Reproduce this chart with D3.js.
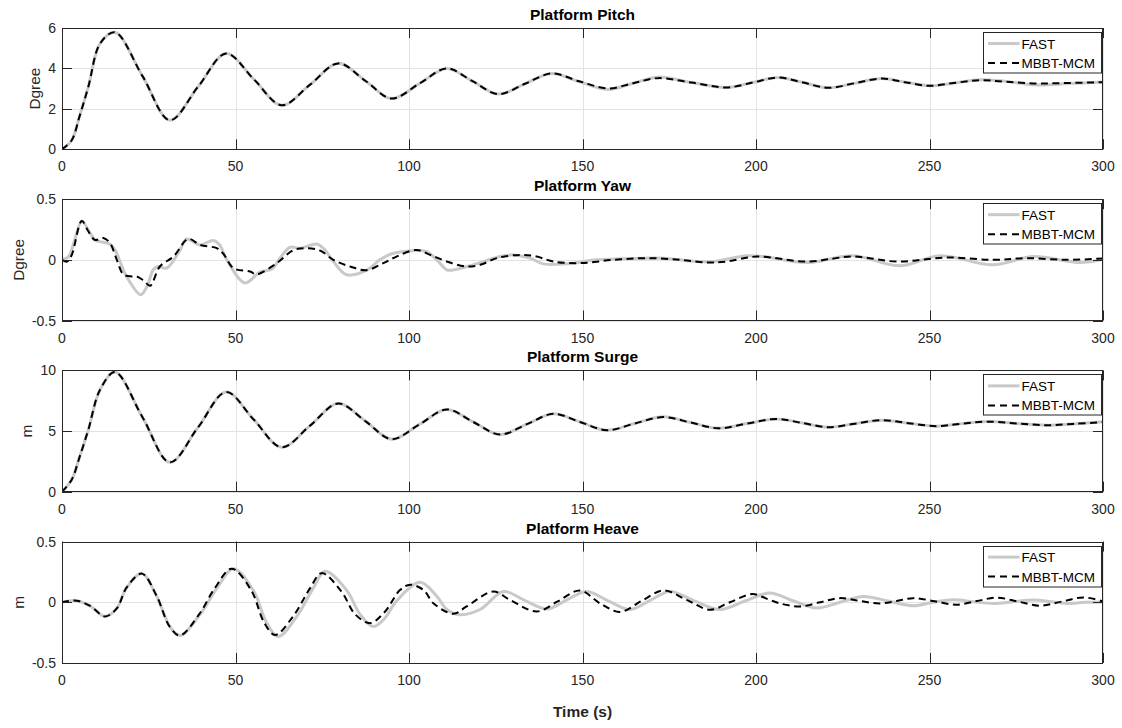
<!DOCTYPE html>
<html><head><meta charset="utf-8">
<script src="https://cdn.jsdelivr.net/npm/d3@7/dist/d3.min.js"></script>
<style>body{margin:0;background:#fff}svg{display:block}text{font-family:"Liberation Sans",Arial,Helvetica,sans-serif}</style>
</head><body><svg id="c" width="1122" height="728"></svg>
<script>
// ---------- data ----------
const xTicks = [0, 50, 100, 150, 200, 250, 300];
const panelTitles = ["Platform Pitch", "Platform Yaw", "Platform Surge", "Platform Heave"];
const yLabels = ["Dgree", "Dgree", "m", "m"];
const yTicksPitch = [0, 2, 4, 6];
const yTicksYaw = [-0.5, 0, 0.5];
const yTicksSurge = [0, 5, 10];
const yTicksHeave = [-0.5, 0, 0.5];
const seriesNames = ["FAST", "MBBT-MCM"];
const xLabel = "Time (s)";

// Pitch
const pitchT = [0, 2.8, 5, 7.6, 11, 15.3, 23.2, 31.1, 39.2, 47.3, 55.3, 63.3, 71.5, 79.6, 87.5, 95, 103, 110.9, 118.3, 125.7, 133.4, 141.1, 149, 157.4, 164.6, 171.8, 181.5, 191.5, 199, 206.4, 213.6, 220.8, 228.5, 236.2, 243, 250.1, 257, 264.6, 272, 281, 290, 300];
const pitchFast = [0, 0.45, 1.6, 3.1, 5.24, 5.79, 3.62, 1.44, 3.09, 4.74, 3.46, 2.18, 3.2, 4.25, 3.38, 2.51, 3.25, 4.0, 3.37, 2.73, 3.24, 3.75, 3.35, 2.96, 3.27, 3.57, 3.3, 3.06, 3.3, 3.55, 3.3, 3.04, 3.27, 3.5, 3.32, 3.14, 3.28, 3.44, 3.36, 3.18, 3.25, 3.33];
const pitchMbbt = [0, 0.45, 1.6, 3.1, 5.24, 5.79, 3.62, 1.44, 3.09, 4.74, 3.46, 2.18, 3.2, 4.25, 3.38, 2.51, 3.25, 4.0, 3.37, 2.73, 3.24, 3.75, 3.37, 3.01, 3.27, 3.52, 3.3, 3.06, 3.3, 3.55, 3.3, 3.04, 3.27, 3.5, 3.32, 3.14, 3.28, 3.42, 3.34, 3.26, 3.28, 3.32];

// Yaw
const yawFastT = [0, 2, 3.5, 5.7, 7.5, 9.5, 11, 13.8, 15.3, 18.6, 22.7, 24.5, 26.3, 27.7, 30.2, 34, 35.9, 39.8, 43.6, 45.5, 47.5, 52.7, 57.1, 60.5, 63, 65.7, 68.6, 73.4, 75.5, 78.2, 82, 87.8, 91.6, 95, 101.2, 105.1, 108, 110.9, 112.3, 118.5, 126.2, 130.1, 134.9, 138.7, 145.4, 154.1, 168.5, 173.3, 182.9, 187.7, 197.3, 202.1, 214.6, 228, 241.5, 253, 268.4, 279.9, 293.4, 300];
const yawFast = [0, 0.03, 0.15, 0.32, 0.25, 0.164, 0.15, 0.13, 0.08, -0.137, -0.287, -0.22, -0.082, -0.055, -0.068, 0.08, 0.172, 0.123, 0.16, 0.12, 0, -0.19, -0.1, -0.075, 0.02, 0.104, 0.095, 0.131, 0.09, -0.014, -0.123, -0.085, 0, 0.05, 0.076, 0.068, 0, -0.082, -0.085, -0.041, 0.027, 0.041, 0.014, -0.033, -0.033, 0, 0.014, 0.014, -0.014, -0.014, 0.033, 0.027, -0.022, 0.033, -0.049, 0.033, -0.041, 0.027, -0.022, 0.005];
const yawMbbtT = [0, 1.5, 2.8, 5.7, 7.5, 9.5, 11.9, 13.8, 15.8, 17.7, 20.1, 21.5, 23.5, 25.4, 28.2, 32.1, 36.4, 39.8, 44.6, 46.5, 49.4, 54.2, 56.1, 61.9, 66.7, 70.5, 74.4, 78.2, 83, 87.8, 92.6, 96.4, 102.2, 106.1, 110.9, 116.6, 120.5, 125.3, 132, 136.8, 141.6, 149.3, 158.9, 168.5, 178.1, 185.8, 191.5, 200.2, 214.6, 228, 240.5, 254.9, 268.4, 278, 289.5, 300];
const yawMbbt = [0, -0.014, 0.04, 0.32, 0.24, 0.164, 0.18, 0.14, 0, -0.12, -0.137, -0.137, -0.17, -0.213, -0.055, 0.027, 0.172, 0.123, 0.096, 0.05, -0.068, -0.096, -0.12, -0.027, 0.08, 0.096, 0.076, 0, -0.055, -0.085, -0.027, 0.027, 0.082, 0.041, -0.014, -0.055, -0.041, 0.014, 0.041, 0.027, -0.014, -0.027, 0, 0.014, 0, -0.022, -0.014, 0.027, -0.014, 0.027, -0.014, 0.019, 0, 0.014, 0, 0.011];

// Surge
const surgeT = [0, 2.8, 5, 7.6, 11, 15.3, 23.2, 31.1, 39.2, 47.3, 55.3, 63.3, 71.5, 79.6, 87.5, 95, 103, 110.9, 118.5, 126.2, 134, 141.6, 149.3, 157, 165, 173.3, 181.2, 189.1, 197.5, 206, 213.4, 220.8, 228.5, 236.2, 244, 252, 259, 266.5, 275, 283.8, 292, 300];
const surgeFast = [0, 0.99, 2.8, 5.12, 8.43, 9.86, 6.14, 2.42, 5.3, 8.21, 5.93, 3.66, 5.45, 7.27, 5.8, 4.33, 5.55, 6.78, 5.75, 4.71, 5.57, 6.42, 5.75, 5.07, 5.62, 6.17, 5.7, 5.23, 5.62, 6.0, 5.66, 5.32, 5.61, 5.9, 5.65, 5.4, 5.6, 5.79, 5.63, 5.48, 5.6, 5.76];
const surgeMbbt = [0, 0.99, 2.8, 5.12, 8.43, 9.86, 6.14, 2.42, 5.3, 8.21, 5.93, 3.66, 5.45, 7.27, 5.8, 4.33, 5.55, 6.78, 5.75, 4.71, 5.57, 6.42, 5.75, 5.07, 5.62, 6.15, 5.7, 5.23, 5.62, 6.0, 5.66, 5.32, 5.61, 5.9, 5.65, 5.4, 5.6, 5.77, 5.63, 5.48, 5.6, 5.74];

// Heave
const heaveFastT = [0, 4.2, 8.1, 12.4, 15.8, 18.6, 23, 27.3, 31.1, 34, 39.8, 44.6, 49.4, 55.1, 59, 62.3, 67.6, 72.4, 75.8, 82, 85.9, 89.7, 92.8, 96.4, 103.2, 108, 110.9, 114.7, 120.5, 127.2, 133, 139.7, 145.5, 151.2, 157.5, 163.7, 169.5, 175.2, 182.4, 189.6, 196.8, 204, 210.8, 217.5, 224.2, 230.9, 238.1, 245.3, 251.1, 256.9, 262.6, 268.4, 274.2, 279.9, 285.2, 290.5, 295, 300];
const heaveFast = [0, 0.013, -0.03, -0.117, -0.05, 0.12, 0.236, 0.05, -0.2, -0.274, -0.1, 0.115, 0.277, 0.1, -0.17, -0.283, -0.12, 0.116, 0.255, 0.1, -0.1, -0.2, -0.14, 0.01, 0.164, 0.05, -0.06, -0.103, -0.06, 0.089, 0.02, -0.056, 0.02, 0.089, 0.01, -0.06, 0.015, 0.089, 0.01, -0.06, 0.01, 0.076, 0.01, -0.048, 0, 0.048, 0.01, -0.029, 0, 0.02, 0.005, -0.01, 0.004, 0.018, 0.004, -0.01, 0, 0.003];
const heaveMbbtT = [0, 4.2, 8.1, 12.4, 15.8, 18.6, 23, 27.3, 31, 34, 39.5, 44, 48.9, 54.5, 58.3, 61.4, 66.5, 71.5, 74.8, 80.5, 84.5, 88.8, 93, 97.4, 100.3, 104.2, 107.1, 112.8, 116.6, 124.3, 129.1, 136.8, 143, 149.3, 155.1, 160.8, 167, 173.3, 180, 186.7, 192.5, 199, 203, 206.9, 212.7, 218.5, 224.2, 230, 235.7, 240.5, 245.3, 251.5, 257.8, 263.6, 269.4, 275.6, 281.8, 288, 294.3, 300];
const heaveMbbt = [0, 0.013, -0.03, -0.117, -0.05, 0.12, 0.236, 0.05, -0.2, -0.274, -0.1, 0.115, 0.277, 0.1, -0.17, -0.27, -0.12, 0.116, 0.24, 0.09, -0.1, -0.172, -0.08, 0.1, 0.145, 0.1, -0.01, -0.095, -0.035, 0.089, 0.02, -0.076, 0.01, 0.097, -0.01, -0.08, 0.01, 0.097, 0.02, -0.062, 0, 0.068, 0.03, -0.01, -0.035, 0, 0.034, 0.01, -0.01, 0.01, 0.034, 0.008, -0.02, 0.01, 0.038, 0.005, -0.029, 0.005, 0.04, 0.008];

// ---------- layout ----------
const W = 1122, H = 728;
const left = 62, right = 1103;
const panelTop0 = 28, panelStep = 171.2, panelH = 121.3;
const fontTick = 14, fontLabel = 15.4, fontTitle = 15.5, fontLegend = 13.5;
const axisColor = "#262626", gridColor = "#e3e3e3";
const fastColor = "#c9c9c9", mbbtColor = "#000";

const zip = (t, v) => t.map((d, i) => [d, v[i]]);
const panels = [
  { domain: [0, 6], ticks: yTicksPitch, fast: zip(pitchT, pitchFast), mbbt: zip(pitchT, pitchMbbt) },
  { domain: [-0.5, 0.5], ticks: yTicksYaw, fast: zip(yawFastT, yawFast), mbbt: zip(yawMbbtT, yawMbbt) },
  { domain: [0, 10], ticks: yTicksSurge, fast: zip(surgeT, surgeFast), mbbt: zip(surgeT, surgeMbbt) },
  { domain: [-0.5, 0.5], ticks: yTicksHeave, fast: zip(heaveFastT, heaveFast), mbbt: zip(heaveMbbtT, heaveMbbt) }
];

const svg = d3.select("#c");
svg.append("rect").attr("width", W).attr("height", H).attr("fill", "#fff");
const x = d3.scaleLinear().domain([0, 300]).range([left, right]);
const fmt = v => (v === 0 ? "0" : String(v));

panels.forEach((p, i) => {
  const top = panelTop0 + i * panelStep, bot = top + panelH;
  const y = d3.scaleLinear().domain(p.domain).range([bot, top]);
  const g = svg.append("g");
  g.append("rect").attr("x", left).attr("y", top).attr("width", right - left).attr("height", panelH).attr("fill", "#fff");

  // grid
  g.selectAll(".gx").data(xTicks).join("line")
    .attr("x1", d => Math.round(x(d)) + 0.5).attr("x2", d => Math.round(x(d)) + 0.5)
    .attr("y1", top).attr("y2", bot).attr("stroke", gridColor).attr("stroke-width", 1);
  g.selectAll(".gy").data(p.ticks).join("line")
    .attr("x1", left).attr("x2", right)
    .attr("y1", d => Math.round(y(d)) + 0.5).attr("y2", d => Math.round(y(d)) + 0.5)
    .attr("stroke", gridColor).attr("stroke-width", 1);

  // clip
  const cid = "clip" + i;
  svg.append("clipPath").attr("id", cid).append("rect")
    .attr("x", left).attr("y", top).attr("width", right - left).attr("height", panelH);

  const line = d3.line().x(d => x(d[0])).y(d => y(d[1])).curve(d3.curveCatmullRom.alpha(0.5));
  const lg = g.append("g").attr("clip-path", `url(#${cid})`);
  lg.append("path").attr("d", line(p.fast)).attr("fill", "none")
    .attr("stroke", fastColor).attr("stroke-width", 3).attr("stroke-linejoin", "round");
  lg.append("path").attr("d", line(p.mbbt)).attr("fill", "none")
    .attr("stroke", mbbtColor).attr("stroke-width", 2).attr("stroke-dasharray", "7,4.5");

  // ticks (inward, mirrored)
  const tl = 10;
  xTicks.forEach(d => {
    const xx = Math.round(x(d)) + 0.5;
    g.append("line").attr("x1", xx).attr("x2", xx).attr("y1", bot).attr("y2", bot - tl).attr("stroke", axisColor);
    g.append("line").attr("x1", xx).attr("x2", xx).attr("y1", top).attr("y2", top + tl).attr("stroke", axisColor);
  });
  p.ticks.forEach(d => {
    const yy = Math.round(y(d)) + 0.5;
    g.append("line").attr("x1", left).attr("x2", left + tl).attr("y1", yy).attr("y2", yy).attr("stroke", axisColor);
    g.append("line").attr("x1", right).attr("x2", right - tl).attr("y1", yy).attr("y2", yy).attr("stroke", axisColor);
  });
  // box
  g.append("rect").attr("x", left + 0.5).attr("y", Math.round(top) + 0.5).attr("width", right - left - 1).attr("height", Math.round(panelH))
    .attr("fill", "none").attr("stroke", axisColor).attr("stroke-width", 1);

  // tick labels
  g.selectAll(".xl").data(xTicks).join("text")
    .attr("x", d => x(d)).attr("y", bot + 22).attr("text-anchor", "middle")
    .attr("font-size", fontTick).attr("fill", axisColor).text(d => d);
  const yl = g.selectAll(".yl").data(p.ticks).join("text")
    .attr("x", left - 6).attr("y", d => y(d) + 5).attr("text-anchor", "end")
    .attr("font-size", fontTick).attr("fill", axisColor).text(fmt);
  let maxW = 0;
  yl.each(function () { maxW = Math.max(maxW, this.getComputedTextLength()); });

  // y label
  const lx = left - 6 - maxW - 13.5;
  g.append("text").attr("transform", `translate(${lx + 5.5},${(top + bot) / 2}) rotate(-90)`)
    .attr("text-anchor", "middle").attr("font-size", fontLabel).attr("fill", axisColor).text(yLabels[i]);

  // title
  g.append("text").attr("x", (left + right) / 2).attr("y", top - 8).attr("text-anchor", "middle")
    .attr("font-size", fontTitle).attr("font-weight", "bold").attr("fill", "#000").text(panelTitles[i]);

  // legend
  const lgx = 983, lgy = top + 4, lgw = 118, lgh = 40.5;
  const leg = g.append("g");
  leg.append("rect").attr("x", lgx + 0.5).attr("y", Math.round(lgy) + 0.5).attr("width", lgw).attr("height", lgh)
    .attr("fill", "#fff").attr("stroke", axisColor).attr("stroke-width", 1);
  const rows = [
    { name: seriesNames[0], color: fastColor, w: 3, dash: null, dy: 11.5 },
    { name: seriesNames[1], color: mbbtColor, w: 2, dash: "7,5", dy: 31 }
  ];
  rows.forEach(r => {
    const ry = lgy + r.dy;
    const ln = leg.append("line").attr("x1", 988).attr("x2", 1019.5).attr("y1", ry).attr("y2", ry)
      .attr("stroke", r.color).attr("stroke-width", r.w);
    if (r.dash) ln.attr("stroke-dasharray", r.dash);
    leg.append("text").attr("x", 1021.5).attr("y", ry + 5).attr("font-size", fontLegend).attr("fill", "#000").text(r.name);
  });
});

svg.append("text").attr("x", (left + right) / 2).attr("y", 717).attr("text-anchor", "middle")
  .attr("font-size", 15.5).attr("font-weight", "bold").attr("fill", axisColor).text(xLabel);
</script></body></html>
